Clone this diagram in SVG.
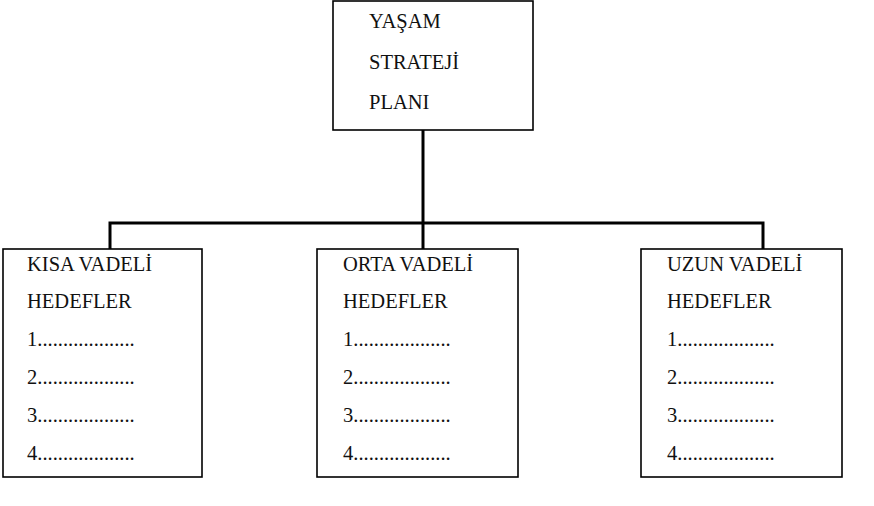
<svg xmlns="http://www.w3.org/2000/svg" width="874" height="506" viewBox="0 0 874 506">
<style>
.box{fill:#fff;stroke:#000;stroke-width:1.6}
.t{font-family:"Liberation Serif","Times New Roman",serif;font-size:20.5px;fill:#111}
.c{fill:none;stroke:#000;stroke-width:3}
</style>
<rect width="874" height="506" fill="#fff"/>
<g id="connectors">
<line class="c" x1="423" y1="130" x2="423" y2="249"/>
<polyline class="c" points="110,249 110,223 763,223 763,249"/>
</g>
<g id="node-top">
<rect class="box" x="333" y="1" width="200" height="129"/>
<text class="t" x="369" y="28">YAŞAM</text>
<text class="t" x="369" y="69">STRATEJİ</text>
<text class="t" x="369" y="109">PLANI</text>
</g>
<g id="node-kisa">
<rect class="box" x="3" y="249" width="199" height="228"/>
<text class="t" x="27" y="271">KISA VADELİ</text>
<text class="t" x="27" y="308">HEDEFLER</text>
<text class="t" x="27" y="346">1...................</text>
<text class="t" x="27" y="384">2...................</text>
<text class="t" x="27" y="422">3...................</text>
<text class="t" x="27" y="460">4...................</text>
</g>
<g id="node-orta">
<rect class="box" x="317" y="249" width="201" height="228"/>
<text class="t" x="343" y="271">ORTA VADELİ</text>
<text class="t" x="343" y="308">HEDEFLER</text>
<text class="t" x="343" y="346">1...................</text>
<text class="t" x="343" y="384">2...................</text>
<text class="t" x="343" y="422">3...................</text>
<text class="t" x="343" y="460">4...................</text>
</g>
<g id="node-uzun">
<rect class="box" x="641" y="249" width="201" height="228"/>
<text class="t" x="667" y="271">UZUN VADELİ</text>
<text class="t" x="667" y="308">HEDEFLER</text>
<text class="t" x="667" y="346">1...................</text>
<text class="t" x="667" y="384">2...................</text>
<text class="t" x="667" y="422">3...................</text>
<text class="t" x="667" y="460">4...................</text>
</g>
</svg>
